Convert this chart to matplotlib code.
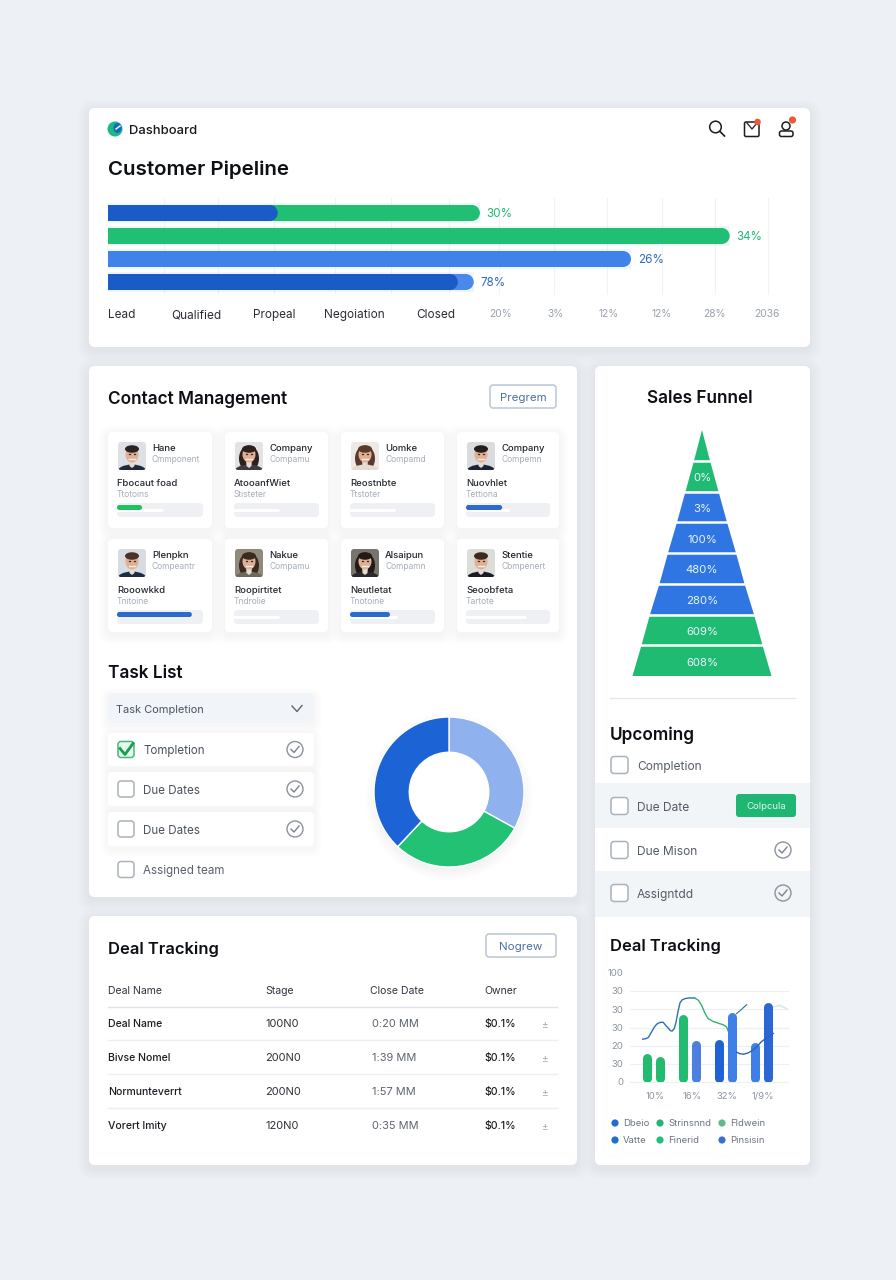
import numpy as np
import matplotlib
matplotlib.use("Agg")
import matplotlib.pyplot as plt
from matplotlib.patches import FancyBboxPatch, Circle, Ellipse, Polygon

plt.rcParams['font.family'] = ['Inter', 'DejaVu Sans']

W, H = 896, 1280

# Customer pipeline bars
pipe_total = [53.9, 90.1, 75.8, 53.0]
pipe_inner = [24.6, 0, 0, 50.7]
pipe_labels = ['30%', '34%', '26%', '78%']
pipe_cats = ['Lead', 'Qualified', 'Propeal', 'Negoiation', 'Closed']
pipe_ticks = ['20%', '3%', '12%', '12%', '28%', '2036']

# Contact cards
card_names = ['Hane', 'Company', 'Uomke', 'Company', 'Plenpkn', 'Nakue', 'Alsaipun', 'Stentie']
card_subs = ['Cmmponent', 'Compamu', 'Compamd', 'Compemn', 'Compeantr', 'Compamu', 'Compamn', 'Cbmpenert']
card_roles = ['Fbocaut foad', 'AtooanfWiet', 'Reostnbte', 'Nuovhlet', 'Rooowkkd', 'Roopirtitet', 'Neutletat', 'Seoobfeta']
card_notes = ['Ttotoins', 'Stisteter', 'Ttstoter', 'Tettiona', 'Tnitoine', 'Tndrolie', 'Tnotoine', 'Tartote']
card_progress = [0.29, 0, 0, 0.43, 0.87, 0, 0.47, 0]
card_track = [0.54, 0.54, 0.54, 0.52, 0, 0.54, 0.56, 0.72]
hair_colors = ['#2b2420', '#2e211c', '#5a3a2a', '#241d1a', '#4a3324', '#3a2a20', '#211a18', '#3b2a20']
top_colors = ['#1f2a3c', '#3c3c42', '#e6dccf', '#1c2433', '#1d2b45', '#6b6a5c', '#2a2a2e', '#191c24']
long_hair = [False, True, True, False, False, True, True, False]
photo_bg = ['#dde1e6', '#e2e3e5', '#ece9e6', '#d9dbde', '#d7dce2', '#8f8a7c', '#77746c', '#dcdcd8']

# Task list and donut
task_rows = ['Tompletion', 'Due Dates', 'Due Dates']
donut_values = [33, 29, 38]
donut_colors = ['#8fb2ee', '#22c173', '#1c63d6']

# Funnel
funnel_widths = [16, 33, 50, 68, 85, 104, 121, 139]
funnel_labels = ['', '0%', '3%', '100%', '480%', '280%', '609%', '608%']
funnel_colors = ['#1fbb72', '#1fbb72', '#2f76e3', '#2f76e3', '#2f76e3', '#2f76e3', '#1fbb72', '#1fbb72']

# Upcoming list
upcoming_rows = ['Completion', 'Due Date', 'Due Mison', 'Assigntdd']

# Deal table
table_head = ['Deal Name', 'Stage', 'Close Date', 'Owner']
deal_names = ['Deal Name', 'Bivse Nomel', 'Normunteverrt', 'Vorert Imity']
deal_stage = ['100N0', '200N0', '200N0', '120N0']
deal_dates = ['0:20 MM', '1:39 MM', '1:57 MM', '0:35 MM']
deal_owner = ['$0.1%', '$0.1%', '$0.1%', '$0.1%']

# Small combo chart
bar_groups = [0, 0, 1, 1, 2, 2, 3, 3]
bar_side = [-1, 1, -1, 1, -1, 1, -1, 1]
bar_values = [15.5, 13.8, 37, 23, 23.6, 38, 22, 44]
bar_colors = ['#22bb6f', '#22bb6f', '#22bb6f', '#4b7fe0', '#1f62d6', '#3f80e8', '#3f80e8', '#2a66d4']
line1_x = [-0.30, -0.22, -0.14, -0.05, 0.02, 0.09, 0.18, 0.27, 0.35, 0.41, 0.47, 0.52, 0.58, 0.63, 0.68, 0.74, 0.80, 0.875, 1.0, 1.15]
line1_y = [23.6, 23.8, 24.5, 27.6, 30, 31.8, 32.8, 32.9, 31, 29.8, 28.3, 28, 29.5, 33, 38.5, 43.6, 45.2, 45.9, 46.3, 46.2]
line2_x = [1.15, 1.25, 1.34, 1.43, 1.52, 1.65, 1.80, 1.95, 2.03, 2.08, 2.125]
line2_y = [46.2, 45, 42.2, 38, 34.9, 33.4, 32.4, 31.4, 30.4, 28, 24.9]
line3_x = [2.31, 2.40, 2.50, 2.62, 2.73, 2.87, 3.0, 3.17, 3.33]
line3_y = [16.4, 15.6, 15.3, 15.9, 17.1, 19.3, 22.2, 24.6, 26.7]
line4_x = [2.31, 2.59]
line4_y = [37.6, 42.5]
line5_x = [3.33, 3.51, 3.70]
line5_y = [41.3, 42.2, 40.4]
combo_yticks = ['0', '30', '20', '30', '30', '30', '100']
combo_xticks = ['10%', '16%', '32%', '1/9%']
legend_names = ['Dbeio', 'Strinsnnd', 'Fldwein', 'Vatte', 'Finerid', 'Pinsisin']
legend_colors = ['#1f6fd1', '#22b573', '#5fb98a', '#1f6fd1', '#1fc07a', '#3b6fd8']

INK = '#14171c'
GREY = '#5b6470'
PALE = '#a6aeb9'

fig = plt.figure(figsize=(W / 100, H / 100), dpi=100, facecolor='#edf0f4')
bg = fig.add_axes([0, 0, 1, 1], zorder=0)
bg.set_xlim(0, W)
bg.set_ylim(H, 0)
bg.axis('off')


def sub_ax(x0, y0, x1, y1):
    ax = fig.add_axes([x0 / W, 1 - y1 / H, (x1 - x0) / W, (y1 - y0) / H], zorder=2)
    ax.patch.set_alpha(0)
    ax.axis('off')
    return ax


def box(x0, y0, x1, y1, r=6, fc='white', ec='none', lw=0, z=2):
    p = FancyBboxPatch((x0 + r, y0 + r), x1 - x0 - 2 * r, y1 - y0 - 2 * r,
                       boxstyle='round,pad=%f,rounding_size=%f' % (r, r),
                       fc=fc, ec=ec, lw=lw, zorder=z)
    bg.add_patch(p)
    return p


def card(x0, y0, x1, y1, r=6, spread=12, alpha=0.004, z=2):
    for i in range(1, spread + 1):
        box(x0 - i, y0 - i + 3, x1 + i, y1 + i + 3, r=r + i, fc=(0.4, 0.45, 0.52, alpha), z=z)
    box(x0, y0, x1, y1, r=r, z=z + 0.1)


def txt(x, y, s, px=12, color=INK, weight='normal', ha='left', z=6):
    # baseline placement keeps words with and without descenders level
    bg.text(x, y + px * 0.36, s, fontsize=px * 0.72, color=color, weight=weight, ha=ha, va='baseline', zorder=z)


def checkbox(x, y, size=17, ec='#aab2bd'):
    box(x, y - size / 2, x + size, y + size / 2, r=3, fc='white', ec=ec, lw=1.1, z=6)


def tick_circle(x, y, r=8):
    bg.add_patch(Circle((x, y), r, fc='none', ec='#8b929c', lw=1.0, zorder=6))
    bg.plot([x - 4, x - 1, x + 4], [y, y + 3, y - 3], color='#7b838e', lw=1.0, zorder=6)


def avatar(x, y, hair, top, long_h, back):
    base = box(x, y, x + 28, y + 28, r=3, fc=back, z=4)
    cx, cy = x + 14, y + 12.5
    if long_h:
        p = bg.add_patch(Ellipse((cx, cy + 4), 20, 26, fc=hair, zorder=4.1))
        p.set_clip_path(base)
    s = bg.add_patch(Ellipse((cx, y + 31), 31, 17, fc=top, zorder=4.2))
    s.set_clip_path(base)
    n = bg.add_patch(Polygon([[cx - 3, y + 17], [cx + 3, y + 17], [cx + 2.5, y + 24], [cx, y + 26], [cx - 2.5, y + 24]], fc='#e9ddd2', zorder=4.3))
    n.set_clip_path(base)
    bg.add_patch(Ellipse((cx, cy), 13, 16, fc='#e0b094', zorder=4.4))
    bg.add_patch(Ellipse((cx, cy - 5.5), 14, 7.5, fc=hair, zorder=4.5))
    bg.plot([cx - 3, cx + 3], [cy + 4, cy + 4], color='#f4ece6', lw=1, zorder=4.6)
    bg.plot([cx - 3.2, cx - 1.6], [cy - 0.5, cy - 0.5], color='#3a2a22', lw=0.9, zorder=4.6)
    bg.plot([cx + 1.6, cx + 3.2], [cy - 0.5, cy - 0.5], color='#3a2a22', lw=0.9, zorder=4.6)


# panels
card(89, 108, 810, 347, r=6)
card(89, 366, 577, 897, r=6)
card(89, 916, 577, 1165, r=6)
card(595, 366, 810, 1165, r=6)

# header
bg.add_patch(Circle((115, 129), 7.5, fc='#1bb98a', zorder=5))
bg.add_patch(Ellipse((117.5, 128), 8, 10, fc='#1767c8', zorder=5.1))
bg.plot([116, 120], [129, 126], color='white', lw=1, zorder=5.2)
txt(129, 129.5, 'Dashboard', px=13, weight='medium')
txt(108, 168, 'Customer Pipeline', px=20.5, weight='semibold', color='#0c0f14')

# header icons
bg.add_patch(Circle((715.5, 127), 5.8, fc='none', ec='#1a1d22', lw=1.1, zorder=6))
bg.plot([720, 724.5], [131.5, 136], color='#1a1d22', lw=1.2, zorder=6)
box(744.5, 122, 759, 136.5, r=1.5, fc='white', ec='#1a1d22', lw=1.1, z=6)
bg.plot([747, 752, 757], [123, 129, 123], color='#1a1d22', lw=0.9, zorder=6.1)
bg.add_patch(Circle((757.5, 122), 3.3, fc='#ea5a3c', zorder=6.2))
bg.add_patch(Circle((786, 126), 4, fc='white', ec='#1a1d22', lw=1.1, zorder=6))
box(779.5, 131, 793, 136.5, r=2, fc='white', ec='#1a1d22', lw=1.1, z=6)
bg.add_patch(Circle((792.5, 120), 3.6, fc='#ea5a3c', zorder=6.2))

# pipeline bars
ax = sub_ax(108, 198, 798, 295)
ax.set_xlim(0, 100)
ax.set_ylim(3.565, -0.65)
for gx in [164, 218, 274, 335, 391, 449, 499, 554, 607, 662, 715, 768]:
    ax.axvline((gx - 108) / 6.9, color='#f0f2f6', lw=0.8, zorder=0)
bar_h = 16 / 23
cap = 16 / 6.9
row_colors = ['#20bf74', '#20bf74', '#3f83ea', '#4a88ec']
inner_colors = ['#1a5bc6', None, None, '#1a5bc6']
text_colors = ['#20b873', '#20b873', '#2f68c4', '#2f68c4']
for i, v in enumerate(pipe_total):
    ax.barh(i, v, height=bar_h + 4 / 23, color=row_colors[i], alpha=0.08, zorder=1)
    ax.barh(i, v - cap / 2, height=bar_h, color=row_colors[i], zorder=2)
    ax.add_patch(Ellipse((v - cap / 2, i), cap, bar_h, fc=row_colors[i], zorder=2))
    if pipe_inner[i] > 0:
        ax.barh(i, pipe_inner[i] - cap / 2, height=bar_h, color=inner_colors[i], zorder=3)
        ax.add_patch(Ellipse((pipe_inner[i] - cap / 2, i), cap, bar_h, fc=inner_colors[i], zorder=3))
    ax.text(v + 1.0, i, pipe_labels[i], color=text_colors[i], fontsize=8.4, va='center_baseline', ha='left', zorder=4)

for cx, s in zip([108, 171, 253, 324, 416], pipe_cats):
    txt(cx, 314, s, px=11.8, color='#2a2e35')
for cx, s in zip([501, 555, 609, 662, 714, 767], pipe_ticks):
    txt(cx, 313.5, s, px=10.2, color='#9aa2ad', ha='center')

# contact management
txt(108, 397.5, 'Contact Management', px=17.2, weight='semibold', color='#0c0f14')
box(490, 385, 556, 408, r=3, fc='white', ec='#b9c6d6', lw=1.1, z=5)
txt(523, 396.5, 'Pregrem', px=11.5, color='#4a6fa0', ha='center')
card_x = [(108, 212), (225, 328), (341, 444), (457, 559)]
card_y = [(432, 528), (539, 632)]
for i in range(8):
    x0, x1 = card_x[i % 4]
    y0, y1 = card_y[i // 4]
    card(x0, y0, x1, y1, r=5, spread=10, alpha=0.005, z=3)
    avatar(x0 + 10, y0 + 10, hair_colors[i], top_colors[i], long_hair[i], photo_bg[i])
    txt(x0 + 44, y0 + 15.5, card_names[i], px=9.5, color='#20242a', weight='medium')
    txt(x0 + 44, y0 + 27, card_subs[i], px=8.5, color=PALE)
    txt(x0 + 9, y0 + 50.5, card_roles[i], px=9.5, color='#23272d', weight='medium')
    txt(x0 + 9, y0 + 62, card_notes[i], px=8.5, color=PALE)
    tx0, tx1 = x0 + 9, x1 - 9
    box(tx0, y0 + 71, tx1, y0 + 85, r=4, fc='#eef0f3', z=4)
    if card_track[i] > 0:
        box(tx0, y0 + 77, tx0 + card_track[i] * (tx1 - tx0), y0 + 80, r=1.4, fc='white', z=4.2)
    if card_progress[i] > 0:
        col = '#22c05f' if i == 0 else '#2c6bcb'
        box(tx0, y0 + 73, tx0 + card_progress[i] * (tx1 - tx0), y0 + 78, r=2.4, fc=col, z=4.4)

# task list
txt(108, 671.5, 'Task List', px=17.2, weight='semibold', color='#0c0f14')
card(108, 693, 314, 723, r=4, spread=8, alpha=0.005, z=3)
box(108, 693, 314, 723, r=4, fc='#f1f4f8', z=3.5)
txt(116, 709, 'Task Completion', px=11, color='#4a5462', z=6)
bg.plot([292, 297, 302], [706, 711.5, 705.5], color='#5d6671', lw=1.0, zorder=6)
row_y = [(733, 766), (772, 806), (812, 846)]
for i, s in enumerate(task_rows):
    y0, y1 = row_y[i]
    yc = (y0 + y1) / 2
    card(108, y0, 314, y1, r=4, spread=8, alpha=0.005, z=3)
    if i == 0:
        box(118, yc - 8, 134, yc + 8, r=3, fc='#e9f8ef', ec='#46b878', lw=1.1, z=6)
        bg.plot([120, 125, 133], [yc - 1, yc + 5, yc - 6], color='#14a04c', lw=2, zorder=6.5)
    else:
        checkbox(118, yc, size=16)
    txt(143, yc + 0.5, s, px=11.6, color='#4b525c')
    tick_circle(295, yc)
checkbox(118, 869.5, size=16)
txt(143, 870, 'Assigned team', px=11.6, color='#5a616b')

# donut
for i in range(1, 13):
    bg.add_patch(Circle((449, 797), 72 + i, fc=(0.4, 0.45, 0.5, 0.005), zorder=2.5))
bg.add_patch(Circle((449, 792), 42, fc='white', zorder=2.6))
ax = sub_ax(449 - 75, 792 - 75, 449 + 75, 792 + 75)
ax.pie(donut_values, colors=donut_colors, startangle=90, counterclock=False, radius=1,
       wedgeprops=dict(width=0.47, edgecolor='white', linewidth=1))
ax.set_xlim(-1, 1)
ax.set_ylim(-1, 1)

# funnel
txt(700, 397, 'Sales Funnel', px=17.2, weight='semibold', color='#0c0f14', ha='center')
ax = sub_ax(632, 430, 772, 676)
ax.set_xlim(-70, 70)
ax.set_ylim(len(funnel_widths), 0)
prev = 0
for i, w in enumerate(funnel_widths):
    ax.fill([-prev / 2, prev / 2, w / 2, -w / 2], [i, i, i + 1, i + 1], color=funnel_colors[i], lw=0)
    if funnel_labels[i]:
        ax.text(0, i + 0.53, funnel_labels[i], color='#e8f3ff', fontsize=8.2, ha='center', va='center_baseline')
    prev = w
ax.hlines(range(1, len(funnel_widths)), -70, 70, color='white', lw=1.8)
bg.plot([610, 795], [698, 698], color='#e3e7ec', lw=1, zorder=5)

# upcoming
txt(610, 733.5, 'Upcoming', px=17.2, weight='semibold', color='#0c0f14')
bg.fill_between([595, 810], 783, 828, color='#f2f5f8', lw=0, zorder=3)
bg.fill_between([595, 810], 871, 917, color='#f2f5f8', lw=0, zorder=3)
for y, s in zip([765, 806, 850, 893], upcoming_rows):
    checkbox(611, y, size=17)
    txt(637, y + 0.5, s, px=12, color='#555c66')
box(736, 794, 796, 817, r=3, fc='#1fb573', z=5)
txt(766, 805.5, 'Colpcula', px=9.5, color='#e4f7ee', ha='center')
tick_circle(783, 850)
tick_circle(783, 893)

# deal tracking table
txt(108, 948, 'Deal Tracking', px=16.6, weight='semibold', color='#0c0f14')
box(486, 934, 556, 957, r=3, fc='white', ec='#b9c6d6', lw=1.1, z=5)
txt(521, 946, 'Nogrew', px=11.5, color='#4a6fa0', ha='center')
col_x = [108, 265, 370, 484]
for cx, s in zip(col_x, table_head):
    txt(cx, 990.5, s, px=10.5, color='#30353c')
bg.plot([108, 557], [1006.5, 1006.5], color='#dfe4ea', lw=1, zorder=5)
for i, yc in enumerate([1023, 1057, 1091, 1125]):
    txt(108, yc + 0.5, deal_names[i], px=10.5, color='#1a1d22', weight='medium')
    txt(265, yc + 0.5, deal_stage[i], px=11, color='#2c3036')
    txt(372, yc + 0.5, deal_dates[i], px=11, color='#5d646e')
    txt(484, yc + 0.5, deal_owner[i], px=10.5, color='#1a1d22', weight='medium')
    txt(544, yc, '±', px=10, color='#a6adb7', ha='center')
    if i < 3:
        bg.plot([108, 557], [yc + 17, yc + 17], color='#eceff3', lw=1, zorder=5)

# small combo chart
txt(610, 945.5, 'Deal Tracking', px=16.6, weight='semibold', color='#0c0f14')
ax = sub_ax(630, 973, 788, 1082)
ax.set_xlim(-0.65, 3.74)
ax.set_ylim(0, 60)
for v in range(0, 60, 10):
    ax.axhline(v, color='#eef1f4', lw=0.9, zorder=0, clip_on=False)
ax.plot(line1_x, line1_y, color='#2f6fb8', lw=1, zorder=1)
ax.plot(line2_x, line2_y, color='#35b070', lw=1, zorder=1)
ax.plot(line3_x, line3_y, color='#2a62c0', lw=1, zorder=4)
ax.plot(line4_x, line4_y, color='#3a6d8c', lw=0.8, zorder=1)
ax.plot(line5_x, line5_y, color='#cfeadb', lw=1, zorder=1)
r_units = 4.5 / (109 / 60)
xs = np.array(bar_groups) + np.array(bar_side) * 0.18
for x, v, c in zip(xs, bar_values, bar_colors):
    ax.vlines(x, r_units, v - r_units, color=c, lw=6.5, capstyle='round', zorder=3)
for i, s in enumerate(combo_yticks):
    txt(623, 1082 - i * 18.2, s, px=9.5, color='#8d95a0', ha='right')
for cx, s in zip([655, 692, 727, 763], combo_xticks):
    txt(cx, 1096, s, px=9.5, color='#8d95a0', ha='center')
leg_x = [615, 660, 722]
for i, s in enumerate(legend_names):
    lx = leg_x[i % 3]
    ly = 1123 if i < 3 else 1140
    bg.add_patch(Circle((lx, ly), 3.6, fc=legend_colors[i], zorder=6))
    txt(lx + 8, ly, s, px=9.5, color='#6b7480')

fig.savefig('out.png', dpi=100, facecolor=fig.get_facecolor())
